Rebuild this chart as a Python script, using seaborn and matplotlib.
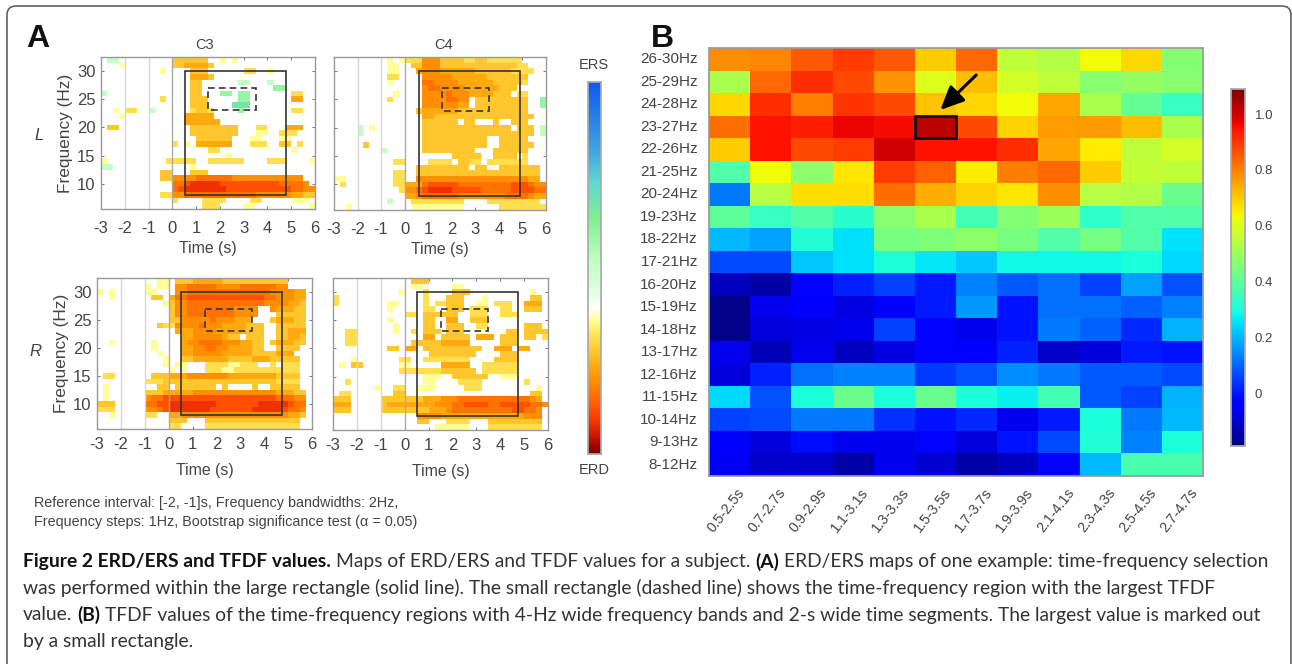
import numpy as np
import pandas as pd
import seaborn as sns
import matplotlib.pyplot as plt
from matplotlib.colors import LinearSegmentedColormap
from matplotlib.patches import Rectangle, FancyBboxPatch
from matplotlib.transforms import IdentityTransform, ScaledTranslation

# ---- panel A: ERD/ERS maps, one string per row, 32 Hz down to 6 Hz, one char per 0.25 s
# '.' not significant, 1-9 ERD strength, a-c ERS strength
c3_left = [
    ".aa.........333333..1.1.............",
    "...1........3344443.................",
    "..........1....333......22..1.......",
    "...............4443.................",
    "...............33......aa...a.......",
    "...............33............bb.....",
    "a..............33...bb.bb.......22..",
    "..........2....333.....bb.......44..",
    "...............333....ccc...........",
    "..1.22..a......2332....b........22..",
    "...1..........44444.................",
    "..............444444................",
    ".33............33333333...22...444..",
    "...............33333333...11..222...",
    "................333333...11...11....",
    "............2.1.444444...222..33.2..",
    "..................22............1...",
    ".....................1..............",
    "1..........22222..222222....222....1",
    "aa.............1....................",
    "..........33...333..................",
    "..........335555666666555555555555..",
    "............66788888777777777766665.",
    "............678888888777777777776655",
    "..........22556666666666665555554433",
    "............2....2222....22.....111.",
    ".................222....11.........1",
]
c4_left = [
    ".........1.122255533332233222222....",
    ".........11..33555333333333333322...",
    ".........11...45554444443333332222..",
    ".........22....555554444443333333...",
    ".........1.....665555444444333332...",
    "...............5665555444444333.....",
    "..........1....555565554444333.22...",
    ".........2.....55556655.333333333..b",
    "...............55555544.333333333..b",
    "..............3444444333333333333...",
    "...............4433333333333333333..",
    "...............333333.33...3..333...",
    "....a.1........333333333333333.333.a",
    "....a..........3333333333333333333.a",
    "...............33333333333..33333...",
    ".....3.........33333333333..333333..",
    "........a......333333333...333333...",
    "....................33333..3333.2...",
    "..........22....2222.3322.2222222...",
    "..............333333333.33..3333333.",
    "..........22..333333333333333333333.",
    "11........22..555555555555555555544.",
    ".2........22444677777666666666777655",
    "...........2556788887777766666777766",
    "............445666666555555556666544",
    ".........a...222222222....222222222.",
    "..1..........111111111......22222222",
]
c3_right = [
    "..........11.3334444433333333333....",
    "........1.11.5566666555566666655....",
    "1.1.....11...5566666666666666555544.",
    "..1......33.46677777777777776655544.",
    "...........135566666666666665555443.",
    "............355666666665555..544433.",
    "............355666666665555...33333.",
    "............33555556555444...344433.",
    "..........322555565554444333..33333.",
    ".............444555544444333..33444.",
    "..............4455555433.333..33443.",
    "..1......1....45566665554433.344433.",
    ".........1....44556655444433..3333..",
    "..........1...4455555444443333444...",
    "...........1..33444444333344433333..",
    "...........1.11...222211222..2.222..",
    "............1.1...2221122222222222..",
    ".22......3334445555555444444443333..",
    "........22233333333333333333332222..",
    ".1........33.3333333.3....3..33333..",
    ".1......333444445555555555555544433.",
    ".1......566777777777777777777766655.",
    "333.....667788888888777777788888766.",
    "222.....556788888887777777888887665.",
    "..1.....22..44555555555555555555443.",
    "............333...3333333333333333..",
    "............22....2222222222222222..",
]
c4_right = [
    ".............333....................",
    ".............11.....11..............",
    "...........1...2....333..........1..",
    "2..............2...333...1.......33.",
    "2........11....2.22333..11.222..444.",
    ".........1.....22..333.222..22..333.",
    "............22.333333..222..222.....",
    ".........1.....33..44..333..........",
    "..........1....33..333..22......333.",
    "..22......1..2.333.333.......33.3333",
    "..22...........44.33333.444.333.33.2",
    "..22.........3333344444.....333.....",
    ".........33.44.3333333333..444.44...",
    "................33333333....333.....",
    "...1.......22..22222222....3333.....",
    ".1.33......11.....44444..222222.....",
    "...........2222222333333.222222.....",
    "...............111..333333..111.....",
    "..2............11....2222.......2...",
    ".......1..22..111.....222.........1.",
    ".22.......33.....................33.",
    "333.....333333344455566666666666654.",
    "444.....3444444445556677776677777665",
    "333.....333333334445666666666677665.",
    "..............555544444444444444555.",
    "..............33...2222...333333333.",
    ".................111111...222222222.",
]
cell_values = {'.': np.nan, '1': -1, '2': -2, '3': -3, '4': -4, '5': -5, '6': -6,
               '7': -7, '8': -8, '9': -9, 'a': 3, 'b': 5, 'c': 7}
map_freqs = list(range(32, 5, -1))
map_times = [-3 + 0.25 * i for i in range(36)]
time_ticks = [-3, -2, -1, 0, 1, 2, 3, 4, 5, 6]
freq_ticks = [30, 25, 20, 15, 10]

# large (solid) and small (dashed) windows: t0, t1, f0, f1
solid_win = {'c3_left': (0.55, 4.8, 8, 30), 'c4_left': (0.6, 4.9, 8, 30),
             'c3_right': (0.5, 4.75, 8, 30), 'c4_right': (0.5, 4.75, 8, 30)}
dash_win = {'c3_left': (1.5, 3.5, 23, 27), 'c4_left': (1.6, 3.6, 23, 27),
            'c3_right': (1.5, 3.5, 23, 27), 'c4_right': (1.5, 3.5, 23, 27)}

# ---- panel B: TFDF values
freq_bands = ['26-30Hz', '25-29Hz', '24-28Hz', '23-27Hz', '22-26Hz', '21-25Hz', '20-24Hz',
              '19-23Hz', '18-22Hz', '17-21Hz', '16-20Hz', '15-19Hz', '14-18Hz', '13-17Hz',
              '12-16Hz', '11-15Hz', '10-14Hz', '9-13Hz', '8-12Hz']
time_segs = ['0.5-2.5s', '0.7-2.7s', '0.9-2.9s', '1.1-3.1s', '1.3-3.3s', '1.5-3.5s',
             '1.7-3.7s', '1.9-3.9s', '2.1-4.1s', '2.3-4.3s', '2.5-4.5s', '2.7-4.7s']
tfdf = [
    [.78, .79, .85, .89, .85, .70, .83, .55, .53, .63, .68, .46],
    [.52, .83, .91, .87, .77, .60, .72, .58, .55, .47, .49, .47],
    [.68, .91, .80, .90, .87, .71, .68, .63, .75, .52, .41, .34],
    [.82, .95, .93, .97, .96, 1.02, .87, .69, .76, .76, .72, .52],
    [.70, .95, .87, .89, 1.0, .95, .95, .91, .75, .65, .55, .58],
    [.38, .63, .48, .66, .89, .84, .65, .80, .83, .70, .56, .55],
    [.12, .54, .67, .67, .82, .74, .69, .66, .78, .54, .53, .42],
    [.40, .34, .38, .32, .47, .52, .36, .46, .50, .33, .38, .38],
    [.20, .17, .31, .25, .44, .45, .48, .44, .38, .44, .38, .25],
    [.06, .06, .22, .25, .30, .26, .22, .28, .28, .28, .30, .24],
    [-.12, -.15, -.03, .01, .05, .0, .13, .08, .11, .05, .17, .07],
    [-.18, -.07, -.05, -.08, -.04, .0, .16, -.01, .11, .11, .09, .13],
    [-.18, -.09, -.08, -.07, .05, -.03, -.07, -.01, .12, .09, .02, .19],
    [-.07, -.13, -.07, -.12, -.08, -.03, -.05, .01, -.11, -.09, .0, -.01],
    [-.09, .01, .11, .13, .13, .04, .07, .15, .12, .08, .08, .06],
    [.24, .07, .30, .42, .30, .42, .30, .27, .36, .08, .05, .19],
    [.05, .06, .12, .12, .03, -.01, .02, -.07, .0, .30, .12, .20],
    [-.04, -.09, -.02, -.07, -.07, -.03, -.09, -.01, .06, .31, .13, .30],
    [-.06, -.11, -.11, -.15, -.07, -.10, -.15, -.12, -.03, .20, .37, .37],
]
cbar_ticks = [0, 0.2, 0.4, 0.6, 0.8, 1.0]
best_cell = ('1.5-3.5s', '23-27Hz')

caption = [
    [("Figure 2 ERD/ERS and TFDF values.", True), ("Maps of ERD/ERS and TFDF values for a subject.", False),
     ("(A)", True), ("ERD/ERS maps of one example: time-frequency selection", False)],
    [("was performed within the large rectangle (solid line). The small rectangle (dashed line) shows the time-frequency region with the largest TFDF", False)],
    [("value.", False), ("(B)", True), ("TFDF values of the time-frequency regions with 4-Hz wide frequency bands and 2-s wide time segments. The largest value is marked out", False)],
    [("by a small rectangle.", False)],
]

sns.set_theme(style='white')
plt.rcParams['font.family'] = ['Liberation Sans', 'DejaVu Sans']
W, H = 1292, 664
GREY = '#444444'
fig = plt.figure(figsize=(W / 100, H / 100), dpi=100)


def px_axes(l, t, r, b):
    return fig.add_axes([l / W, 1 - b / H, (r - l) / W, (b - t) / H])


def px_text(x, y, s, **kw):
    return fig.text(x / W, 1 - y / H, s, **kw)


# rounded frame, open at the bottom
fig.add_artist(FancyBboxPatch((7, -40), 1284, 698, boxstyle='round,pad=0,rounding_size=9',
                              transform=IdentityTransform(), fc='white', ec='#555555', lw=1.1,
                              zorder=-1))

erd_cmap = LinearSegmentedColormap.from_list('erd_ers', [
    (0.0, '#7a0000'), (0.04, '#c01000'), (0.079, '#f03000'), (0.118, '#ff5000'),
    (0.158, '#ff7200'), (0.198, '#ff9000'), (0.237, '#ffaa10'), (0.277, '#ffc830'),
    (0.316, '#ffe050'), (0.355, '#ffff90'), (0.395, '#ffffff'), (0.43, '#e4ffe4'),
    (0.52, '#c0ffc0'), (0.63, '#80f090'), (0.73, '#60d8d0'), (0.81, '#40a8e0'),
    (1.0, '#1058f0')])


def to_grid(rows):
    return pd.DataFrame([[cell_values[ch] for ch in r] for r in rows],
                        index=map_freqs, columns=map_times, dtype=float)


def tx(t):
    return (t + 3) / 0.25


def fy(f):
    return 32.5 - f


def draw_map(rows, name, box, title=None, title_x=0.5, ylabel=False, cax=None, xpad=9, xlabpad=3):
    ax = px_axes(*box)
    sns.heatmap(to_grid(rows), ax=ax, cmap=erd_cmap, vmin=-10, vmax=15.3, cbar=cax is not None,
                cbar_ax=cax, xticklabels=False, yticklabels=False)
    for sp in ax.spines.values():
        sp.set_visible(True)
        sp.set_color('#999999')
        sp.set_linewidth(1)
    for t, c in zip([-2, -1, 0], ['#d8d8d8', '#d8d8d8', '#aaaaaa']):
        ax.axvline(tx(t), color=c, lw=1)
    ax.set_xticks([tx(t) for t in time_ticks], [str(t) for t in time_ticks])
    ax.set_yticks([fy(f) for f in freq_ticks], [str(f) for f in freq_ticks] if ylabel else [])
    ax.tick_params(direction='in', length=2, width=0.7, color='#777777', labelsize=12,
                   labelcolor=GREY, top=True, right=True, left=True, bottom=True)
    ax.tick_params(axis='y', labelrotation=0, pad=4)
    ax.tick_params(axis='x', labelrotation=0, pad=xpad)
    ax.set_xlabel('Time (s)', fontsize=11.4, color=GREY, labelpad=xlabpad)
    if ylabel:
        ax.set_ylabel('Frequency (Hz)', fontsize=12.4, color=GREY, labelpad=3)
    else:
        ax.set_ylabel('')
    if title:
        ax.set_title(title, fontsize=10.5, color=GREY, pad=6, x=title_x)
    t0, t1, f0, f1 = solid_win[name]
    ax.add_patch(Rectangle((tx(t0), fy(f1)), tx(t1) - tx(t0), fy(f0) - fy(f1), fill=False,
                           ec='#333333', lw=1.2))
    t0, t1, f0, f1 = dash_win[name]
    ax.add_patch(Rectangle((tx(t0), fy(f1)), tx(t1) - tx(t0), fy(f0) - fy(f1), fill=False,
                           ec='#333333', lw=1.2, ls=(0, (4, 2.5))))
    return ax


cax_a = px_axes(588, 82, 601, 454)
draw_map(c3_left, 'c3_left', (101, 57, 315, 209), title='C3', title_x=0.486, ylabel=True, cax=cax_a)
draw_map(c4_left, 'c4_left', (334, 57, 546, 210), title='C4', title_x=0.519)
draw_map(c3_right, 'c3_right', (97, 278, 312, 429), ylabel=True, xpad=6, xlabpad=7.5)
draw_map(c4_right, 'c4_right', (333, 278, 548, 430), xpad=6, xlabpad=7.5)
cax_a.set_yticks([-5, 0, 5, 10], [])
cax_a.tick_params(direction='in', length=2, width=0.6, color='#888888', left=True, right=True)
for sp in cax_a.spines.values():
    sp.set_visible(True)
    sp.set_color('#aaaaaa')
px_text(594, 65, 'ERS', fontsize=10.5, color=GREY, ha='center', va='center')
px_text(594, 470, 'ERD', fontsize=10.5, color=GREY, ha='center', va='center')

px_text(39, 136, 'L', fontsize=12, style='italic', color=GREY, ha='center', va='center')
px_text(35, 352, 'R', fontsize=12, style='italic', color=GREY, ha='center', va='center')
px_text(38, 39, 'A', fontsize=23, weight='bold', color='#111111', ha='center', va='center')
px_text(662, 39, 'B', fontsize=23, weight='bold', color='#111111', ha='center', va='center')

px_text(34, 503, 'Reference interval: [-2, -1]s, Frequency bandwidths: 2Hz,', fontsize=10.35,
        color=GREY, va='center')
px_text(34, 522, 'Frequency steps: 1Hz, Bootstrap significance test (\u03b1 = 0.05)', fontsize=10.35,
        color=GREY, va='center')

# ---- panel B
ax_b = px_axes(709, 48, 1203, 476)
cax_b = px_axes(1231, 89, 1245, 446)
tfdf_df = pd.DataFrame(tfdf, index=freq_bands, columns=time_segs)
sns.heatmap(tfdf_df, ax=ax_b, cmap='jet', vmin=-0.19, vmax=1.09, cbar_ax=cax_b,
            xticklabels=True, yticklabels=True)
for sp in ax_b.spines.values():
    sp.set_visible(True)
    sp.set_color('#999999')
ax_b.tick_params(which='major', length=0, labelcolor=GREY)
ax_b.tick_params(axis='y', labelrotation=0, pad=8, labelsize=11)
ax_b.tick_params(axis='x', pad=7)
ax_b.set_xticks(np.arange(1.5, 12, 2), minor=True)
ax_b.set_yticks(np.arange(1.5, 19, 2), minor=True)
ax_b.tick_params(which='minor', direction='in', length=3, width=0.8, color='#555555',
                 top=True, right=True, left=True, bottom=True)
shift = ScaledTranslation(18 / 100, 0, fig.dpi_scale_trans)
for lab in ax_b.get_xticklabels():
    lab.set(rotation=52, ha='right', va='top', fontsize=10.3)
    lab.set_transform(lab.get_transform() + shift)
col = time_segs.index(best_cell[0])
row = freq_bands.index(best_cell[1])
ax_b.add_patch(Rectangle((col, row), 1, 1, fill=False, ec='#111111', lw=2))
ax_b.annotate('', xy=(col + 0.62, row - 0.25), xytext=(col + 1.49, row - 1.8),
              arrowprops=dict(arrowstyle='-|>,head_length=1.2,head_width=0.55', lw=2.2,
                              color='black', shrinkA=0, shrinkB=0))
cax_b.set_yticks(cbar_ticks, ['0', '0.2', '0.4', '0.6', '0.8', '1.0'])
cax_b.tick_params(direction='in', length=2, width=0.6, color='#666666', labelsize=9.5,
                  labelcolor=GREY, left=True, right=True, pad=7)
for sp in cax_b.spines.values():
    sp.set_visible(True)
    sp.set_color('#aaaaaa')

# ---- caption, bold and regular runs laid out one after the other
renderer = fig.canvas.get_renderer()
cap_y = [562, 588, 615, 641]
for y, segs in zip(cap_y, caption):
    x = 23
    for s, bold in segs:
        t = px_text(x, y, s, family=['Lato', 'DejaVu Sans'], fontsize=13.9,
                    weight='bold' if bold else 'normal', color='#111111' if bold else '#333333',
                    va='center')
        x += t.get_window_extent(renderer).width + 5

fig.savefig('out.png', dpi=100)
